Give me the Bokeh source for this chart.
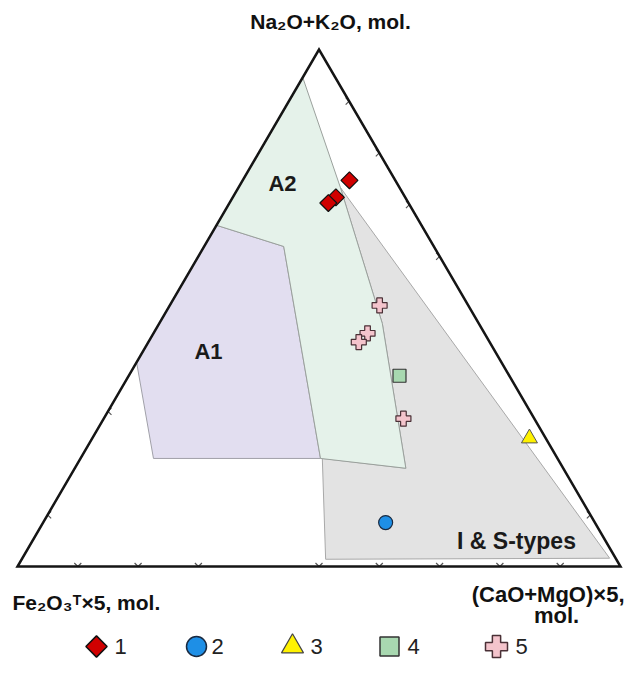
import numpy as np
from bokeh.plotting import figure
from bokeh.models import Range1d
from bokeh.core.properties import value
from bokeh.embed import file_html
from bokeh.resources import INLINE

# ---- data (ternary fractions: top = Na2O+K2O, right = (CaO+MgO)x5, left = Fe2O3T x5) ----
a1_top = [0.395, 0.660, 0.619, 0.209, 0.209]
a1_right = [0.000, 0.000, 0.132, 0.398, 0.121]

a2_top = [0.946, 0.733, 0.470, 0.190, 0.209, 0.619, 0.660]
a2_right = [0.000, 0.169, 0.370, 0.549, 0.398, 0.132, 0.000]

is_top = [0.733, 0.016, 0.014, 0.209, 0.190, 0.470]
is_right = [0.169, 0.974, 0.504, 0.401, 0.549, 0.370]

g1_top = [0.747, 0.714, 0.703]
g1_right = [0.177, 0.171, 0.164]
g2_top = [0.085]
g2_right = [0.568]
g3_top = [0.248]
g3_right = [0.725]
g4_top = [0.369]
g4_right = [0.449]
g5_top = [0.505, 0.451, 0.434, 0.286]
g5_right = [0.348, 0.355, 0.349, 0.497]

ticks_bottom = [0.1, 0.2, 0.3, 0.5, 0.6, 0.7, 0.8, 0.9]
ticks_left = [0.1, 0.3]
ticks_right = [0.1, 0.6, 0.7, 0.8, 0.9]

legend_labels = ["1", "2", "3", "4", "5"]
field_labels = ["A1", "A2", "I & S-types"]
apex_labels = ["Na\u2082O+K\u2082O, mol.", "Fe\u2082O\u2083\u1d40\u00d75, mol.", "(CaO+MgO)\u00d75,", "mol."]


def tx(top, right):
    return np.asarray(right, float) + np.asarray(top, float) / 2.0


def ty(top, right):
    return np.asarray(top, float)


W, H = 626, 661
PX, PY = 603.0, 517.0      # pixels per unit along x and y
X0, YT = 17.0, 566.0       # pixel position of the left vertex (from left, from top)
YB = H - YT


def sx(X):  # screen px -> data x (layout helper)
    return (X - X0) / PX


def sy(Y):  # screen px -> data y (layout helper)
    return (YT - Y) / PY


p = figure(width=W, height=H, output_backend="svg", toolbar_location=None,
           x_axis_location=None, y_axis_location=None, min_border=0,
           x_range=Range1d(-X0 / PX, (W - X0) / PX),
           y_range=Range1d(-YB / PY, (H - YB) / PY))
p.grid.visible = False
p.outline_line_color = None
p.background_fill_color = "white"
p.border_fill_color = "white"

# ---- tick chevrons ----
s = 3.5  # px
dx, dy = 1 / PX, 1 / PY
xs, ys = [], []
for t in ticks_bottom:
    x0, y0 = float(tx(0, t)), float(ty(0, t))
    xs.append([x0 - s * dx, x0, x0 + s * dx]); ys.append([y0 + s * dy, y0, y0 + s * dy])
for t in ticks_left:
    x0, y0 = float(tx(t, 0)), float(ty(t, 0))
    xs.append([x0 + s * dx, x0, x0 + s * dx]); ys.append([y0 + s * dy, y0, y0 - s * dy])
for t in ticks_right:
    x0, y0 = float(tx(t, 1 - t)), float(ty(t, 1 - t))
    xs.append([x0 - s * dx, x0, x0 - s * dx]); ys.append([y0 + s * dy, y0, y0 - s * dy])
p.multi_line(xs, ys, line_color="#555555", line_width=1.2)

# ---- fields ----
p.patch(tx(is_top, is_right), ty(is_top, is_right), fill_color="#e3e3e3",
        line_color="#a8a8a8", line_width=1)
p.patch(tx(a1_top, a1_right), ty(a1_top, a1_right), fill_color="#e2def0",
        line_color="#a0a0a8", line_width=1)
p.patch(tx(a2_top, a2_right), ty(a2_top, a2_right), fill_color="#e5f2ea",
        line_color="#9aa09c", line_width=1)

# ---- triangle ----
p.patch(tx([0, 0, 1], [0, 1, 0]), ty([0, 0, 1], [0, 1, 0]), fill_color=None,
        line_color="#151515", line_width=2.5, line_join="miter")

font = value("Liberation Sans")

# ---- field labels ----
p.text([sx(208), sx(282)], [sy(351), sy(183)], text=field_labels[:2], text_font=font,
       text_font_style="bold", text_font_size="22px", text_color="#1a1a1a",
       text_align="center", text_baseline="middle")
p.text([sx(516)], [sy(540)], text=field_labels[2:], text_font=font,
       text_font_style="bold", text_font_size="23px", text_color="#1a1a1a",
       text_align="center", text_baseline="middle")

# ---- samples ----
p.scatter(tx(g1_top, g1_right), ty(g1_top, g1_right), marker="square", angle=np.pi / 4,
          size=12, fill_color="#d00000", line_color="#111111", line_width=1.2)
p.scatter(tx(g2_top, g2_right), ty(g2_top, g2_right), marker="circle", size=14,
          fill_color="#1e8fe6", line_color="#1a2a40", line_width=1.2)
p.scatter(tx(g3_top, g3_right), ty(g3_top, g3_right), marker="triangle", size=16,
          fill_color="#fff200", line_color="#555555", line_width=1)
p.scatter(tx(g4_top, g4_right), ty(g4_top, g4_right), marker="square", size=13,
          fill_color="#a8d8b0", line_color="#333333", line_width=1.2)
p.scatter(tx(g5_top, g5_right), ty(g5_top, g5_right), marker="plus", size=15,
          fill_color="#f4c4cc", line_color="#4a3036", line_width=1.2)

# ---- apex labels ----
p.text([sx(330)], [sy(21)], text=[apex_labels[0]], text_font=font, text_font_style="bold",
       text_font_size="21px", text_color="#111111", text_align="center", text_baseline="middle")
p.text([sx(12)], [sy(602)], text=[apex_labels[1]], text_font=font, text_font_style="bold",
       text_font_size="21px", text_color="#111111", text_align="left", text_baseline="middle")
p.text([sx(624)], [sy(594)], text=[apex_labels[2]], text_font=font, text_font_style="bold",
       text_font_size="22px", text_color="#111111", text_align="right", text_baseline="middle")
p.text([sx(556)], [sy(615)], text=[apex_labels[3]], text_font=font, text_font_style="bold",
       text_font_size="22px", text_color="#111111", text_align="center", text_baseline="middle")

# ---- legend ----
ly = sy(646)
mk_x = [sx(v) for v in (96, 196, 292, 389, 496)]
lb_x = [sx(v) for v in (120, 217, 316, 413, 521)]
p.scatter([mk_x[0]], [ly], marker="square", angle=np.pi / 4, size=15,
          fill_color="#d00000", line_color="#111111", line_width=1.5)
p.scatter([mk_x[1]], [ly], marker="circle", size=20,
          fill_color="#1e8fe6", line_color="#1a2a40", line_width=1.5)
p.scatter([mk_x[2]], [ly], marker="triangle", size=22,
          fill_color="#fff200", line_color="#444444", line_width=1.2)
p.scatter([mk_x[3]], [ly], marker="square", size=19,
          fill_color="#a8d8b0", line_color="#333333", line_width=1.5)
p.scatter([mk_x[4]], [ly], marker="plus", size=22,
          fill_color="#f4c4cc", line_color="#4a3036", line_width=1.5)
p.text(lb_x, [ly] * 5, text=legend_labels, text_font=font, text_font_size="22px",
       text_color="#222222", text_align="center", text_baseline="middle")

open("out.html", "w").write(file_html(p, INLINE))
